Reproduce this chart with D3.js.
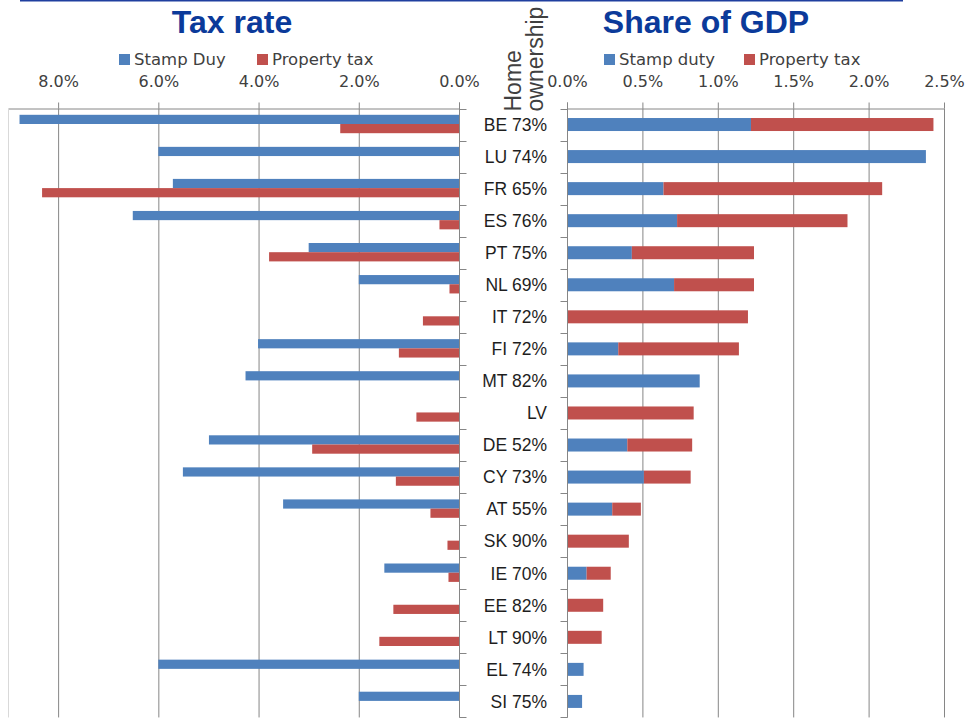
<!DOCTYPE html>
<html>
<head>
<meta charset="utf-8">
<script src="https://cdn.jsdelivr.net/npm/d3@7"></script>
<style>
  html,body{margin:0;padding:0;background:#fff;}
  svg{display:block;font-family:"DejaVu Sans",sans-serif;}
</style>
</head>
<body>
<div id="chart"></div>
<script>
// data (values in %)
const countries=["BE","LU","FR","ES","PT","NL","IT","FI","MT","LV","DE","CY","AT","SK","IE","EE","LT","EL","SI"];
const homeOwnership=["73%","74%","65%","76%","75%","69%","72%","72%","82%","","52%","73%","55%","90%","70%","82%","90%","74%","75%"];
const stampRate=[8.77,6.0,5.71,6.51,3.0,2.0,0,4.01,4.26,0,4.99,5.51,3.51,0,1.49,0,0,6.0,2.0];
const propRate=[2.37,0,8.32,0.39,3.79,0.19,0.72,1.2,0,0.85,2.93,1.26,0.57,0.23,0.21,1.31,1.59,0,0];
const stampGdp=[1.22,2.38,0.64,0.73,0.43,0.71,0,0.34,0.88,0,0.40,0.51,0.30,0,0.13,0,0,0.11,0.10];
const propGdp=[1.21,0,1.45,1.13,0.81,0.53,1.20,0.80,0,0.84,0.43,0.31,0.19,0.41,0.16,0.24,0.23,0,0];
const rateTicks=[0,2,4,6,8];
const gdpTicks=[0,0.5,1,1.5,2,2.5];

(function(){
  const W=967,H=718;
  const blue="#4f81bd",red="#c0504d",grid="#868686",title="#0b3a9a",txt="#404040";
  const top=108.5,rowH=32.05;
  const rows=countries.map((c,i)=>({c,label:homeOwnership[i]?`${c} ${homeOwnership[i]}`:c,
    sr:stampRate[i],pr:propRate[i],sg:stampGdp[i],pg:propGdp[i]}));

  const svg=d3.select("#chart").append("svg").attr("width",W).attr("height",H);
  svg.append("rect").attr("width",W).attr("height",H).attr("fill","#fff");

  const y=d3.scaleBand().domain(countries).range([top,top+rowH*countries.length]);
  const sub=d3.scaleBand().domain(["stamp","prop"]).range([6.3,24.7]);
  const xl=d3.scaleLinear().domain([0,9]).range([459,8]);
  const xr=d3.scaleLinear().domain([0,2.5]).range([567,944]);
  const bottom=y.range()[1];

  // rule at the very top
  svg.append("line").attr("x1",20).attr("x2",903).attr("y1",0.8).attr("y2",0.8)
    .attr("stroke","#1f3f9f").attr("stroke-width",1.6);

  // titles
  svg.append("text").attr("x",232).attr("y",33).attr("text-anchor","middle")
    .attr("font-family","Liberation Sans, Arial, sans-serif").attr("font-weight",700)
    .attr("font-size",32).attr("fill",title).text("Tax rate");
  svg.append("text").attr("x",706).attr("y",33).attr("text-anchor","middle")
    .attr("font-family","Liberation Sans, Arial, sans-serif").attr("font-weight",700)
    .attr("font-size",32).attr("fill",title).text("Share of GDP");

  // legends
  function legend(x0,items){
    const g=svg.append("g").attr("transform",`translate(${x0},54)`);
    items.forEach(it=>{
      g.append("rect").attr("x",it.x).attr("width",11).attr("height",11).attr("fill",it.color);
      g.append("text").attr("x",it.x+15).attr("y",11).attr("font-size",16.5)
        .attr("fill",txt).text(it.name);
    });
  }
  legend(119,[{x:0,color:blue,name:"Stamp Duy"},{x:138,color:red,name:"Property tax"}]);
  legend(604,[{x:0,color:blue,name:"Stamp duty"},{x:140,color:red,name:"Property tax"}]);

  // value axes on top with gridlines
  function valueAxis(scale,ticks,fmt){
    svg.append("g").attr("transform",`translate(0,${top})`)
      .call(d3.axisTop(scale).tickValues(ticks).tickFormat(fmt).tickSizeInner(6).tickSizeOuter(0).tickPadding(16))
      .call(s=>s.select(".domain").attr("stroke",grid))
      .call(s=>s.selectAll("line").attr("stroke",grid))
      .call(s=>s.selectAll("text").attr("font-size",16).attr("fill",txt)
        .attr("font-family","DejaVu Sans, sans-serif"));
    svg.append("g").selectAll("line").data(ticks).join("line")
      .attr("x1",d=>scale(d)+0.5).attr("x2",d=>scale(d)+0.5)
      .attr("y1",top).attr("y2",bottom).attr("stroke",grid);
  }
  valueAxis(xl,rateTicks,d=>d.toFixed(1)+"%");
  valueAxis(xr,gdpTicks,d=>d.toFixed(1)+"%");

  // left plot border
  svg.append("line").attr("x1",8.5).attr("x2",8.5).attr("y1",top).attr("y2",bottom)
    .attr("stroke","#d9d9d9");

  // left panel: grouped bars growing to the left
  const gl=svg.append("g");
  gl.selectAll(".sr").data(rows).join("rect")
    .attr("x",d=>xl(d.sr)).attr("width",d=>xl(0)-xl(d.sr))
    .attr("y",d=>y(d.c)+sub("stamp")).attr("height",sub.bandwidth())
    .attr("fill",blue);
  gl.selectAll(".pr").data(rows).join("rect")
    .attr("x",d=>xl(d.pr)).attr("width",d=>xl(0)-xl(d.pr))
    .attr("y",d=>y(d.c)+sub("prop")).attr("height",sub.bandwidth())
    .attr("fill",red);

  // right panel: stacked bars
  const stack=d3.stack().keys(["sg","pg"])(rows);
  const colorOf={sg:blue,pg:red};
  svg.append("g").selectAll("g").data(stack).join("g").attr("fill",d=>colorOf[d.key])
    .selectAll("rect").data(d=>d).join("rect")
    .attr("x",d=>xr(d[0])).attr("width",d=>xr(d[1])-xr(d[0]))
    .attr("y",d=>y(d.data.c)+y.bandwidth()/2-6.5).attr("height",13);

  // category axes
  const bounds=d3.range(countries.length+1).map(i=>top+i*rowH);
  svg.append("line").attr("x1",459.5).attr("x2",459.5).attr("y1",top-6).attr("y2",bottom).attr("stroke",grid);
  svg.append("line").attr("x1",567.5).attr("x2",567.5).attr("y1",top-6).attr("y2",bottom).attr("stroke",grid);
  svg.append("g").selectAll("line").data(bounds).join("line")
    .attr("x1",459.5).attr("x2",466.5).attr("y1",d=>Math.round(d)+0.5).attr("y2",d=>Math.round(d)+0.5)
    .attr("stroke",grid);
  svg.append("g").selectAll("line").data(bounds).join("line")
    .attr("x1",560.5).attr("x2",567.5).attr("y1",d=>Math.round(d)+0.5).attr("y2",d=>Math.round(d)+0.5)
    .attr("stroke",grid);

  svg.append("g").selectAll("text").data(rows).join("text")
    .attr("x",547).attr("y",d=>y(d.c)+y.bandwidth()/2+6.3)
    .attr("text-anchor","end").attr("font-size",17.5)
    .attr("font-family","Liberation Sans, Arial, sans-serif")
    .attr("fill","#1e1e1e").text(d=>d.label);

  // rotated axis title
  [["Home",521],["ownership",543]].forEach(([t,x])=>{
    svg.append("text").attr("transform",`translate(${x},111.5) rotate(-90)`)
      .attr("font-size",23).attr("font-family","Liberation Sans, Arial, sans-serif")
      .attr("fill",txt).text(t);
  });
})();
</script>
</body>
</html>
